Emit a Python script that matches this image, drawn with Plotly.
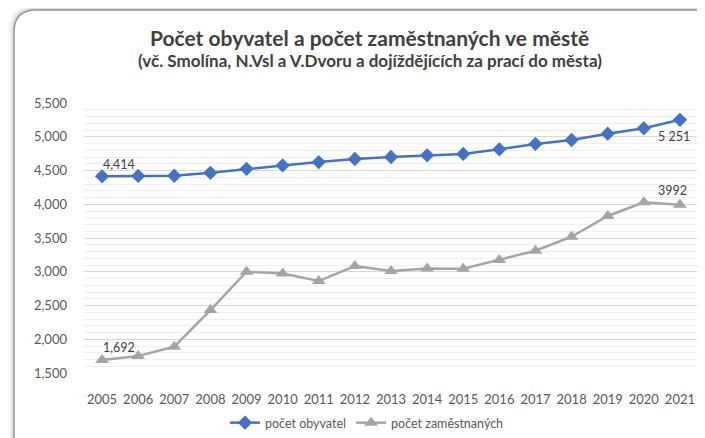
"""Population vs. employed persons in the town, 2005-2021."""

import plotly.graph_objects as go

years = list(range(2005, 2022))
obyvatel = [4414, 4420, 4422, 4465, 4525, 4575, 4625, 4670, 4700, 4725, 4745, 4814, 4893, 4952, 5045, 5125, 5251]
zamestnani = [1692, 1752, 1890, 2433, 3000, 2975, 2862, 3085, 3010, 3050, 3045, 3174, 3312, 3519, 3826, 4029, 3992]
y_ticks = [1500, 2000, 2500, 3000, 3500, 4000, 4500, 5000, 5500]

# page has an 8px body margin, so the figure is made smaller and shifted
OFF = 8
W, H = 705 - OFF, 438 - OFF
L, R, T, B = 84 - OFF, 7, 103 - OFF, 65
PW, PH = W - L - R, H - T - B


def px(x):
    return (x - OFF - L) / PW


def py(y):
    return (H - B - (y - OFF)) / PH


def card_path(x0, y0, x1, y1, r):
    return (f"M {px(x0)},{py(y0 + r)} Q {px(x0)},{py(y0)} {px(x0 + r)},{py(y0)} "
            f"L {px(x1)},{py(y0)} L {px(x1)},{py(y1)} L {px(x0 + r)},{py(y1)} "
            f"Q {px(x0)},{py(y1)} {px(x0)},{py(y1 - r)} Z")


fig = go.Figure()
fig.add_trace(go.Scatter(
    x=years, y=obyvatel, name="počet obyvatel", mode="lines+markers",
    line=dict(color="#4472C4", width=2.5),
    marker=dict(symbol="diamond", size=11, color="#4472C4"),
))
fig.add_trace(go.Scatter(
    x=years, y=zamestnani, name="počet zaměstnaných", mode="lines+markers",
    line=dict(color="#A5A5A5", width=2.5),
    marker=dict(symbol="triangle-up", size=12, color="#A5A5A5"),
))

shapes = []
for i, op in enumerate([0.04, 0.05, 0.07, 0.09]):
    d = 6 - i * 1.5
    shapes.append(dict(type="path", xref="paper", yref="paper", layer="below",
                       path=card_path(14 - d, 10 - d, 730, 460, 22 + d),
                       fillcolor=f"rgba(90,90,100,{op})", line=dict(width=0)))
shapes.append(dict(type="path", xref="paper", yref="paper", layer="below",
                   path=card_path(14, 10, 730, 460, 22),
                   fillcolor="white", line=dict(color="#8c94a0", width=1.5)))

annotations = [
    dict(text="<b>Počet obyvatel a počet zaměstnaných ve městě</b>", x=px(369), y=py(37),
         font=dict(size=21, color="#404040")),
    dict(text="<b>(vč. Smolína, N.Vsl a V.Dvoru a dojíždějících za prací do města)</b>",
         x=px(370), y=py(60), font=dict(size=17, color="#404040")),
    dict(text="4,414", x=years[0], y=obyvatel[0], xref="x", yref="y", xshift=17, yshift=12),
    dict(text="5 251", x=years[-1], y=obyvatel[-1], xref="x", yref="y", xshift=-6, yshift=-17),
    dict(text="1,692", x=years[0], y=zamestnani[0], xref="x", yref="y", xshift=17, yshift=13),
    dict(text="3992", x=years[-1], y=zamestnani[-1], xref="x", yref="y", xshift=-7, yshift=14),
]
for a in annotations:
    a.setdefault("xref", "paper")
    a.setdefault("yref", "paper")
    a.setdefault("font", dict(size=12.5, color="#404040"))
    a["showarrow"] = False
    a["xanchor"] = "center"
    a["yanchor"] = "middle"

fig.update_layout(
    width=W, height=H,
    margin=dict(l=L, r=R, t=T, b=B, autoexpand=False),
    paper_bgcolor="white",
    plot_bgcolor="rgba(0,0,0,0)",
    font=dict(family="Lato, Carlito, sans-serif", color="#595959", size=13),
    shapes=shapes,
    annotations=annotations,
    showlegend=True,
    legend=dict(orientation="h", x=px(367), xanchor="center", y=py(423), yanchor="middle",
                font=dict(size=12.5, color="#595959"), itemwidth=30, bgcolor="rgba(0,0,0,0)"),
)
fig.update_xaxes(range=[2004.5, 2021.5], tickvals=years, showgrid=False, showline=False,
                 ticks="", zeroline=False, tickfont=dict(size=13), ticklabelstandoff=17)
fig.update_yaxes(range=[1500, 5500], tickvals=y_ticks, tickformat=",", showline=False,
                 gridcolor="#d9d9d9", gridwidth=1, zeroline=False, ticks="",
                 tickfont=dict(size=13), ticklabelstandoff=16,
                 minor=dict(dtick=100, showgrid=True, gridcolor="#efefef", gridwidth=1))

fig.write_html("out.html")
